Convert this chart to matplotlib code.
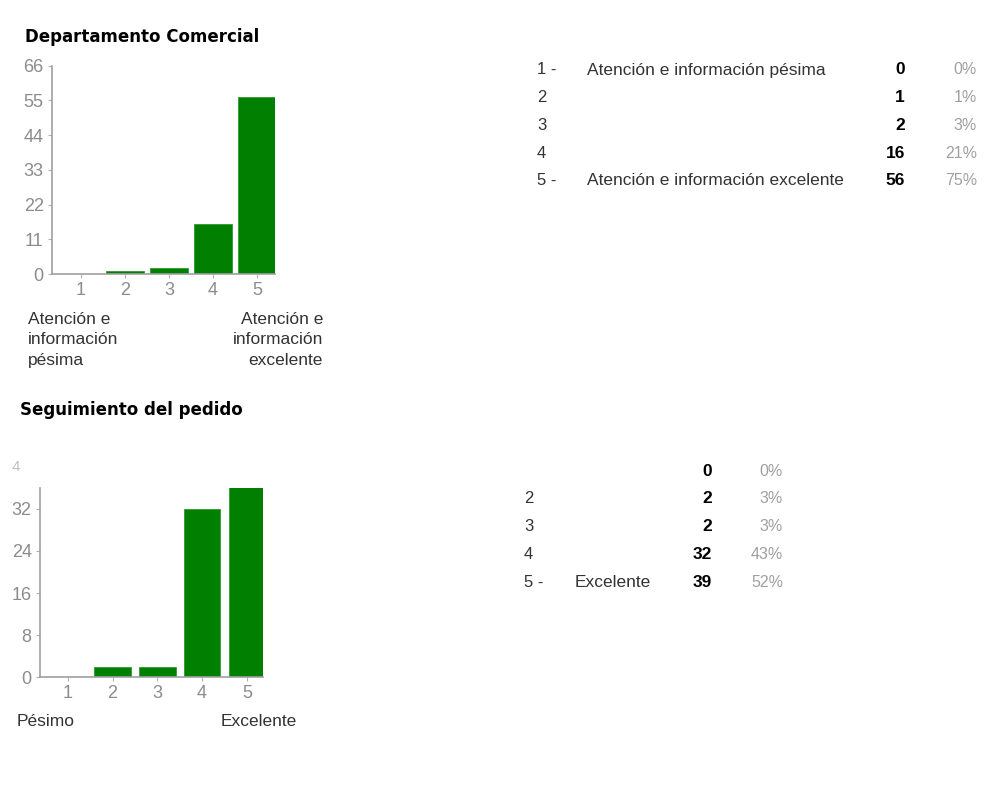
import matplotlib
matplotlib.use("Agg")
import numpy as np
from matplotlib import pyplot as plt

plt.rcParams['font.family'] = ['Liberation Sans', 'DejaVu Sans']

# data
categories = [1, 2, 3, 4, 5]
comercial_counts = [0, 1, 2, 16, 56]
comercial_pct = ['0%', '1%', '3%', '21%', '75%']
comercial_rows = ['1 -', '2', '3', '4', '5 -']
comercial_desc = ['Atención e información pésima', '', '', '', 'Atención e información excelente']
comercial_yticks = [0, 11, 22, 33, 44, 55, 66]

pedido_counts = [0, 2, 2, 32, 39]
pedido_pct = ['0%', '3%', '3%', '43%', '52%']
pedido_rows = ['', '2', '3', '4', '5 -']
pedido_desc = ['', '', '', '', 'Excelente']
pedido_yticks = [0, 8, 16, 24, 32, 40]

green = '#007f00'
grey = '#8c8c8c'

fig = plt.figure(figsize=(10, 7.92), dpi=100)


def bar_panel(rect, counts, yticks, ymax, xlim, width):
	ax = fig.add_axes(rect)
	ax.bar(categories, counts, width=width, color=green, edgecolor='#2e9a2e', linewidth=0.6)
	ax.set_xlim(*xlim)
	ax.set_ylim(0, ymax)
	ax.set_xticks(categories)
	ax.set_yticks([t for t in yticks if t <= ymax])
	for s in ['top', 'right']:
		ax.spines[s].set_visible(False)
	for s in ['left', 'bottom']:
		ax.spines[s].set_color('#a0a0a0')
		ax.spines[s].set_linewidth(1.2)
	ax.tick_params(colors='#b0b0b0', labelcolor=grey, labelsize=13, length=3, pad=3)
	return ax


ax1 = bar_panel([0.052, 0.654, 0.223, 0.263], comercial_counts, comercial_yticks, 66, (0.34, 5.41), 0.86)
ax2 = bar_panel([0.040, 0.384 - 0.239, 0.223, 0.239], pedido_counts, pedido_yticks, 36, (0.38, 5.36), 0.82)
# top tick label cut off in the original screenshot
ax2.text(-0.09, pedido_yticks[-1], str(pedido_yticks[-1])[0], transform=ax2.get_yaxis_transform(),
	ha='right', va='center', fontsize=11, color='#c0c0c0', clip_on=False)

# titles
fig.text(0.025, 1 - 37 / 792, 'Departamento Comercial', fontsize=12, fontweight='bold',
	family='DejaVu Sans', va='center')
fig.text(0.020, 1 - 410 / 792, 'Seguimiento del pedido', fontsize=12, fontweight='bold',
	family='DejaVu Sans', va='center')

# scale ends
fig.text(0.028, 1 - 312 / 792, 'Atención e\ninformación\npésima', fontsize=12.5, color='#333333',
	va='top', ha='left', linespacing=1.45)
fig.text(0.323, 1 - 312 / 792, 'Atención e\ninformación\nexcelente', fontsize=12.5, color='#333333',
	va='top', ha='right', multialignment='right', linespacing=1.45)
fig.text(0.017, 1 - 721 / 792, 'Pésimo', fontsize=12.5, color='#333333', va='center')
fig.text(0.297, 1 - 721 / 792, 'Excelente', fontsize=12.5, color='#333333', va='center', ha='right')

# tables
def table(rows, desc, counts, pct, y0, dy, xr, xd, xc, xp):
	for i in range(len(counts)):
		y = 1 - (y0 + i * dy) / 792
		fig.text(xr, y, rows[i], fontsize=12, color='#333333', va='center')
		fig.text(xd, y, desc[i], fontsize=12.5, color='#333333', va='center')
		fig.text(xc, y, str(counts[i]), fontsize=12.5, fontweight='bold', color='black', va='center', ha='right')
		fig.text(xp, y, pct[i], fontsize=11.5, color='#a0a0a0', va='center', ha='right')


table(comercial_rows, comercial_desc, comercial_counts, comercial_pct, 70, 27.7, 0.537, 0.587, 0.905, 0.977)
table(pedido_rows, pedido_desc, pedido_counts, pedido_pct, 471, 27.8, 0.524, 0.575, 0.712, 0.783)

fig.savefig('out.png', dpi=100, facecolor='white')
